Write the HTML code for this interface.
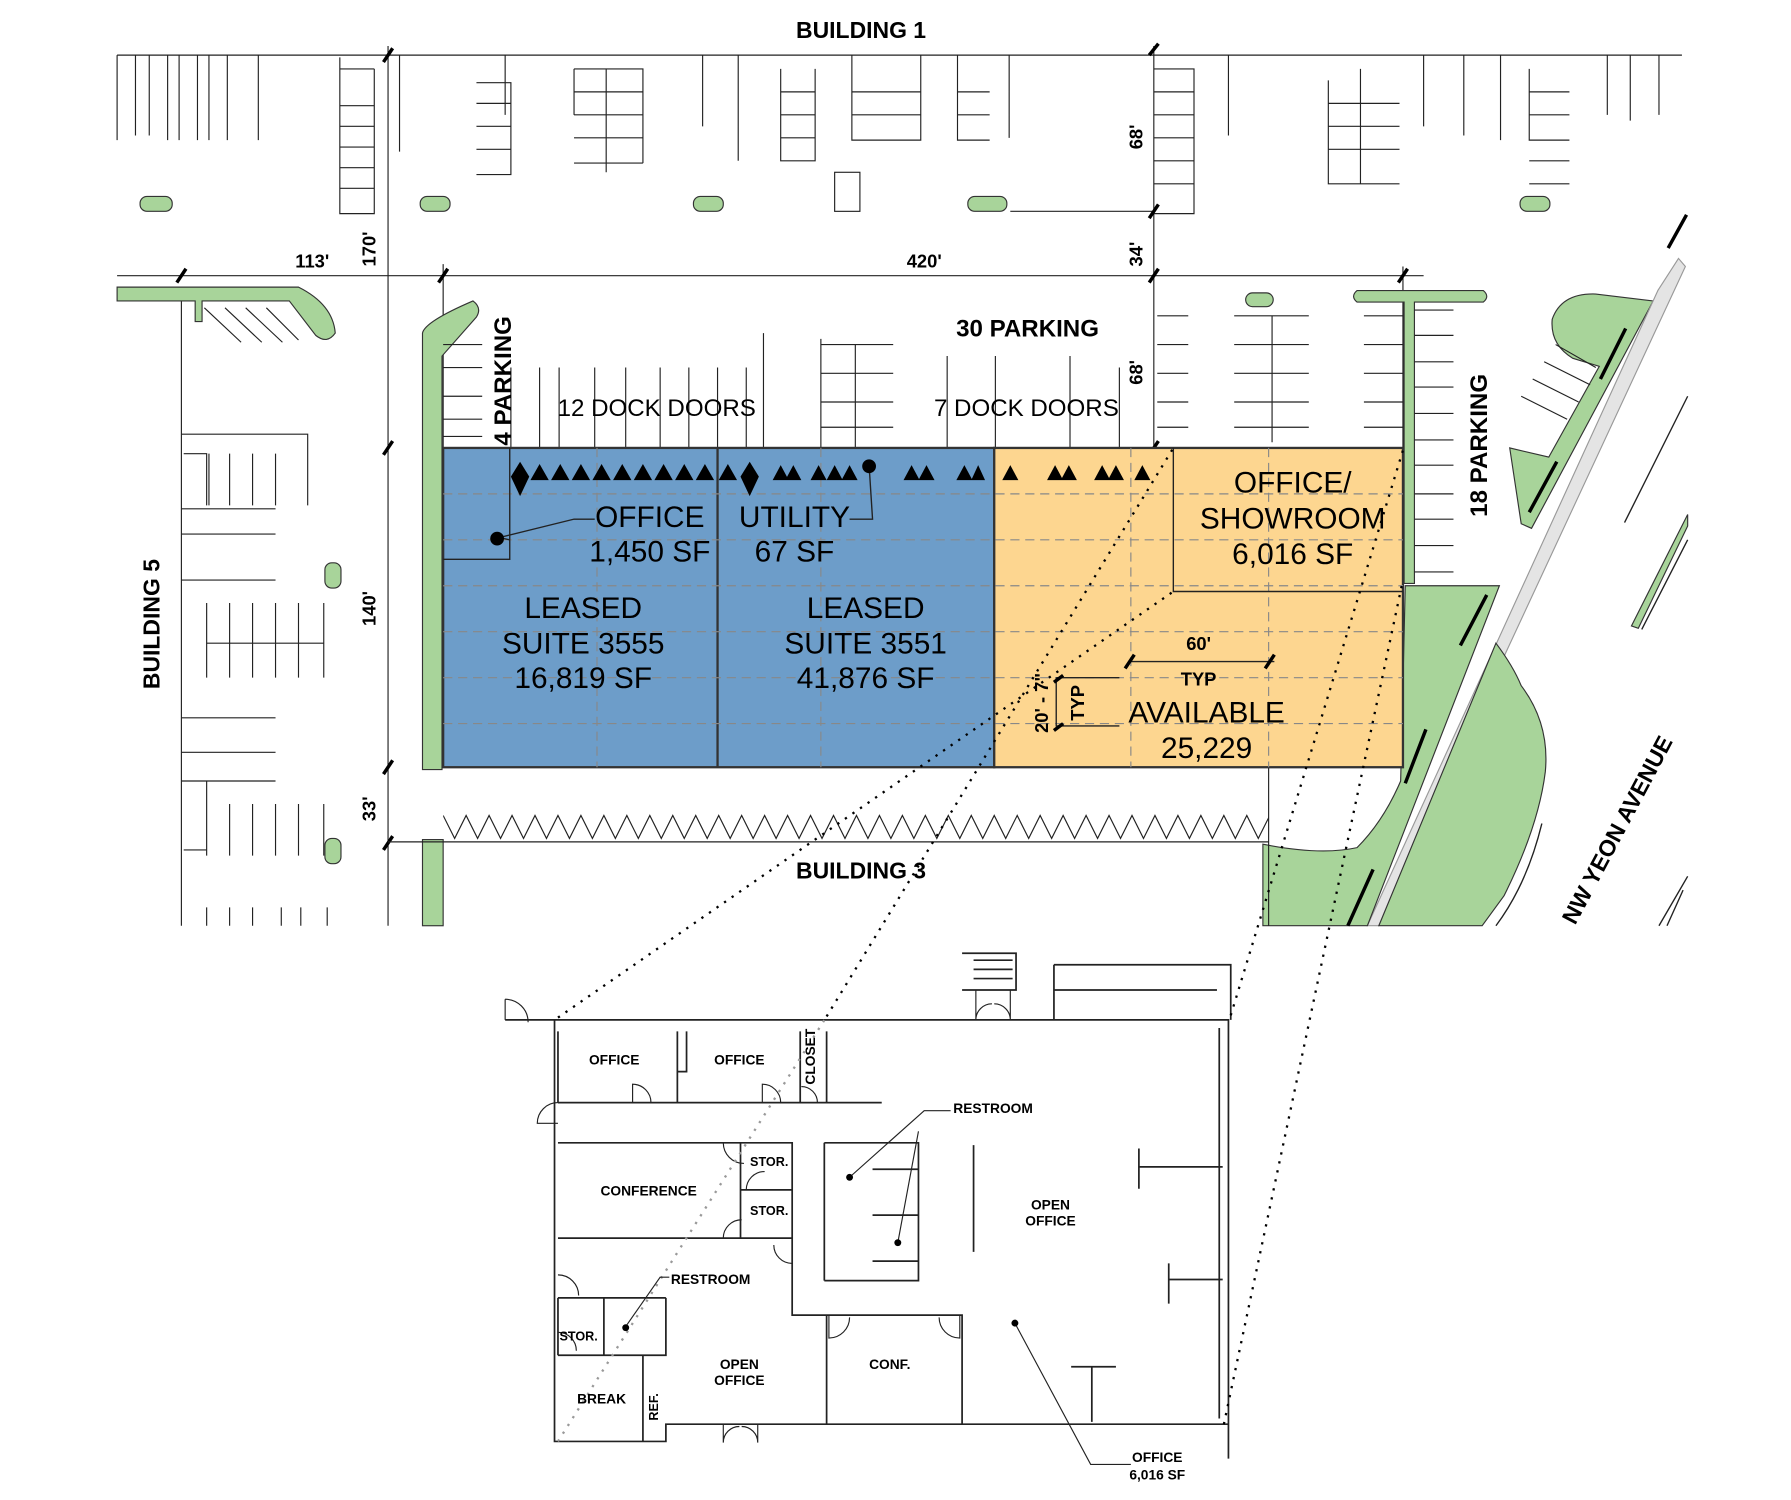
<!DOCTYPE html>
<html><head><meta charset="utf-8"><style>
html,body{margin:0;padding:0;background:#fff}
svg{display:block}
text{font-family:"Liberation Sans",sans-serif;fill:#000}
</style></head><body>
<svg width="1791" height="1500" viewBox="0 0 1560 1306" preserveAspectRatio="none" xmlns="http://www.w3.org/2000/svg">
<defs><clipPath id="zc"><rect x="386" y="700" width="719" height="40"/></clipPath></defs>
<g stroke="#222" stroke-width="1" fill="none">
<line x1="102" y1="48" x2="1465" y2="48"/>
<line x1="338" y1="40" x2="338" y2="806"/>
<line x1="1005" y1="40" x2="1005" y2="390"/>
<path d="M102 48V122M118 48V118M130 48V118M146 48V122M156 48V122M172 48V122M182 48V122M198 48V122M225 48V122"/>
<path d="M296 50V186h30V60M296 92h30M296 110h30M296 128h30M296 146h30M296 164h30M296 60h30"/>
<path d="M348 48V132M440 48V100M415 72h30V152h-30M415 90h30M415 110h30M415 130h30"/>
<path d="M500 60h60V142M500 60V100M500 80h60M500 100h60M500 120h60M500 142h60M528 60V150"/>
<path d="M612 48V110M643 48V140M680 60V140h30V60M680 80h30M680 100h30M680 120h30M742 48V122h60V48M742 80h60M742 100h60M834 48V122h28M834 80h28M834 100h28M879 48V120"/>
<rect x="727" y="150" width="22" height="34"/>
<path d="M1005 60H1040V186H1005M1005 80h35M1005 100h35M1005 120h35M1005 140h35M1005 160h35M1070 48V118M1157 70V160h62M1157 90h62M1157 110h62M1157 130h62M1185 60V160M1240 48V110M1275 48V118M1307 48V122M1332 60V122h35M1332 80h35M1332 100h35M1332 140h35M1332 160h35M1400 48V100M1420 48V105M1445 48V100"/>
<line x1="880" y1="184" x2="1005" y2="184"/>
<line x1="102" y1="240" x2="1240" y2="240"/>
<line x1="386" y1="230" x2="386" y2="390"/>
<line x1="158" y1="262" x2="158" y2="806"/>
<line x1="1222" y1="232" x2="1222" y2="390"/>
</g>
<g stroke="#000" stroke-width="3">
<line x1="334" y1="54" x2="342" y2="42"/><line x1="1001" y1="190" x2="1009" y2="178"/><line x1="1001" y1="48" x2="1009" y2="38"/>
<line x1="154" y1="246" x2="162" y2="234"/><line x1="382" y1="246" x2="390" y2="234"/><line x1="1001" y1="246" x2="1009" y2="234"/><line x1="1218" y1="246" x2="1226" y2="234"/>
<line x1="334" y1="396" x2="342" y2="384"/><line x1="334" y1="674" x2="342" y2="662"/><line x1="334" y1="740" x2="342" y2="728"/><line x1="1001" y1="396" x2="1009" y2="384"/>
</g>
<g fill="#a8d49a" stroke="#333" stroke-width="1">
<rect x="122" y="171" width="28" height="13" rx="6"/><rect x="366" y="171" width="26" height="13" rx="6"/><rect x="604" y="171" width="26" height="13" rx="6"/><rect x="843" y="171" width="34" height="13" rx="6"/><rect x="1324" y="171" width="26" height="13" rx="6"/>
<rect x="283" y="490" width="14" height="22" rx="6"/><rect x="283" y="730" width="14" height="22" rx="6"/>
<rect x="1085" y="255" width="24" height="12" rx="6"/>
<path d="M102 250H260Q290 265 292 290Q285 300 275 292L252 262H176V280H170V262H102Z"/>
<path d="M368 290Q370 280 412 262Q420 268 415 276L385 310V670H368Z"/>
<rect x="368" y="731" width="18" height="75"/>
<path d="M1182 253H1292Q1298 258 1292 263H1232V508H1223V263H1182Q1176 258 1182 253Z"/>
<path d="M1440 262L1334 460L1325 456L1315 390L1349 398L1393 319L1370 312Q1350 300 1352 278Q1360 255 1390 256Z"/>
<path d="M1444 253L1191 806L1201 806L1468 232L1462 225Z" fill="#e4e4e4" stroke="#999"/>
<path d="M1100 806V735Q1150 745 1182 738Q1205 715 1220 680L1224 510H1306L1191 806Z"/>
<path d="M1303 560Q1318 580 1325 597Q1350 630 1346 672Q1340 720 1310 780L1291 806H1201Z"/>
<path d="M1421 545L1470 448L1470 458L1427 547Z"/>
</g>
<g stroke="#222" stroke-width="1.2" fill="none">
<path d="M1343 717Q1330 770 1303 806M1470 763L1445 806M1466 775L1452 806"/>
<path d="M1415 455L1470 345M1430 548L1470 470"/>
</g>
<g stroke="#000" stroke-width="3"><path d="M1469 187L1453 216M1416 286L1394 330M1356 402L1332 446M1295 518L1272 562M1242 635L1224 682M1196 757L1174 806"/></g>
<g stroke="#222" stroke-width="1" fill="none">
<path d="M178 268L210 298M196 268L228 298M214 268L246 298M232 268L260 296"/>
<path d="M158 378H268V440M160 395H180V440M182 395V440M200 395V440M220 395V440M240 395V440M158 443H240M158 465H240"/>
<path d="M158 505H240M180 525V590M200 525V590M220 525V590M240 525V590M260 525V590M282 525V590M180 560H282M158 625H240M158 655H240"/>
<path d="M158 680H240M180 700V745M200 700V745M220 700V745M240 700V745M260 700V745M282 700V745M160 740H180M180 680V700"/>
<path d="M180 790V806M200 790V806M220 790V806M245 790V806M262 790V806M285 790V806"/>
<path d="M386 300H420M386 320H420M386 345H420M386 365H420M386 380H420"/>
<path d="M445 320V390M470 320V390M487 320V390M518 320V390M545 320V390M575 320V390M600 320V390M625 320V390M650 320V390M665 290V390"/>
<path d="M715 295V390M715 300H778M715 325H778M715 350H778M715 372H778M745 300V390M825 310V390M867 310V390M932 310V390M975 320V390"/>
<path d="M1008 275H1035M1008 300H1035M1008 325H1035M1008 350H1035M1008 372H1035M1075 275H1140M1075 300H1140M1075 325H1140M1075 350H1140M1075 372H1140M1108 275V385M1188 275H1222M1188 300H1222M1188 325H1222M1188 350H1222M1188 372H1222"/>
<path d="M1232 270H1266M1232 292H1266M1232 315H1266M1232 337H1266M1232 360H1266M1232 383H1266M1232 405H1266M1232 430H1266M1232 452H1266M1232 475H1266M1232 498H1266"/>
<path d="M1355 300L1390 320M1345 315L1385 335M1335 330L1375 350M1325 345L1365 365"/>
<line x1="338" y1="733" x2="1105" y2="733"/>
<line x1="386" y1="668" x2="1105" y2="668"/>
<line x1="1105" y1="668" x2="1105" y2="806"/>
<path clip-path="url(#zc)" d="M386 710l10 20l10-20l10 20l10-20l10 20l10-20l10 20l10-20l10 20l10-20l10 20l10-20l10 20l10-20l10 20l10-20l10 20l10-20l10 20l10-20l10 20l10-20l10 20l10-20l10 20l10-20l10 20l10-20l10 20l10-20l10 20l10-20l10 20l10-20l10 20l10-20l10 20l10-20l10 20l10-20l10 20l10-20l10 20l10-20l10 20l10-20l10 20l10-20l10 20l10-20l10 20l10-20l10 20l10-20l10 20l10-20l10 20l10-20l10 20l10-20l10 20l10-20l10 20l10-20l10 20l10-20l10 20l10-20l10 20l10-20l10 20l10-20l10 20l10-20l10 20l10-20l10 20l10-20l10 20l10-20l10 20l10-20l10 20l10-20l10 20l10-20l10 20l10-20l10 20l10-20"/>
</g>
<rect x="386" y="390" width="480" height="278" fill="#6d9dc9" stroke="#333" stroke-width="2"/>
<rect x="866" y="390" width="356" height="278" fill="#fdd690" stroke="#333" stroke-width="2"/>
<line x1="625" y1="390" x2="625" y2="668" stroke="#333" stroke-width="2"/>
<g stroke="#888" stroke-width="1" stroke-dasharray="8,5">
<path d="M386 430H1222M386 470H1222M386 510H1222M386 550H1222M386 590H1222M386 630H1222"/>
<path d="M520 390V668M715 390V668M985 390V668M1105 390V668"/>
</g>
<g stroke="#222" stroke-width="1.2" fill="none">
<path d="M386 487H444V390"/>
<path d="M1022 390V515H1222"/>
<path d="M444 470L435 468L500 452H518"/>
<path d="M757 405L760 452H740"/>
<path d="M920 590V632H975M920 590H975M985 576H1110"/>
</g>
<circle cx="433" cy="469" r="6"/><circle cx="757" cy="406" r="6"/>
<g fill="#000">
<path d="M445 415L453 402L461 415L453 432Z"/>
<path d="M645 415L653 402L661 415L653 432Z"/>
<path d="M462 418l8-14l8 14zM480 418l8-14l8 14zM498 418l8-14l8 14zM516 418l8-14l8 14zM534 418l8-14l8 14zM552 418l8-14l8 14zM570 418l8-14l8 14zM588 418l8-14l8 14zM606 418l8-14l8 14zM626 418l8-14l8 14z"/>
<path d="M673 418l7-13l7 13zM684 418l7-13l7 13zM706 418l7-13l7 13zM720 418l7-13l7 13zM733 418l7-13l7 13z"/>
<path d="M787 418l7-13l7 13zM800 418l7-13l7 13zM833 418l7-13l7 13zM846 418l6-13l6 13z"/>
<path d="M873 418l7-13l7 13zM912 418l7-13l7 13zM924 418l7-13l7 13zM953 418l7-13l7 13zM965 418l7-13l7 13zM988 418l7-13l7 13z"/>
</g>
<g stroke="#000" stroke-width="3"><line x1="980" y1="582" x2="988" y2="570"/><line x1="1102" y1="582" x2="1110" y2="570"/><line x1="918" y1="594" x2="926" y2="588"/><line x1="918" y1="636" x2="926" y2="630"/></g>
<g stroke="#222" stroke-width="1.5" fill="none">
<path d="M440 888H1070V1240H1060M483 888V1255H580V1240H1070V1270"/>
<path d="M486 960H768M486 898V960M590 898V960M697 898V960M720 898V960M590 933H598V898"/>
<path d="M486 995H690V1078H486M645 995V1078M645 1036H690M486 1078H630M690 1078V1145H720M720 1145V1240M720 1145H838V1240M838 1145V1240"/>
<path d="M718 995V1115M718 995H800V1115H718M760 1018H800M760 1058H800M760 1098H800"/>
<path d="M486 1130H580M486 1130V1180M526 1130V1180H580V1130M486 1180H560M560 1180V1255"/>
<path d="M848 997V1090M992 1000V1035M992 1016H1065M1018 1100V1135M1018 1114H1065M933 1190H972M951 1190V1238"/>
<path d="M838 830H885V862H838M848 836H882M848 844H882M848 852H882M918 840H1072V888M918 840V888M918 862H1060"/>
<path d="M1062 895V1235"/>
</g>
<g stroke="#222" stroke-width="1" fill="none">
<path d="M440 870V888M440 870A20 20 0 0 1 460 890"/>
<path d="M567 960A16 16 0 0 0 551 944V960M680 960A16 16 0 0 0 664 944V960M712 960A14 14 0 0 0 698 946"/>
<path d="M486 960A18 18 0 0 0 468 978H486M630 995A18 18 0 0 0 648 1013M650 1036A16 16 0 0 1 666 1020M630 1078A16 16 0 0 1 646 1062M690 1100A16 16 0 0 1 674 1084"/>
<path d="M486 1110A18 18 0 0 1 504 1128M486 1160A16 16 0 0 1 502 1176"/>
<path d="M722 1145V1165A18 18 0 0 0 740 1147M836 1145V1165A18 18 0 0 1 818 1147"/>
<path d="M630 1240V1256A14 14 0 0 1 644 1242M660 1240V1256A14 14 0 0 0 646 1242"/>
<path d="M850 862V888A14 14 0 0 1 864 874M880 862V888A14 14 0 0 0 866 874"/>
</g>
<g stroke="#000" stroke-width="2" stroke-dasharray="2,6" fill="none">
<line x1="486" y1="886" x2="1022" y2="515"/>
<line x1="720" y1="885" x2="1022" y2="390"/>
<line x1="1072" y1="884" x2="1222" y2="392"/>
<line x1="1066" y1="1240" x2="1222" y2="505"/>
</g>
<line x1="486" y1="1255" x2="720" y2="885" stroke="#999" stroke-width="2" stroke-dasharray="2,6"/>
<g stroke="#222" stroke-width="1" fill="none">
<path d="M884 1152L950 1275H985"/><path d="M740 1025L805 967H828M782 1082L800 985"/><path d="M545 1155L575 1112H583"/>
</g>
<circle cx="740" cy="1025" r="3"/><circle cx="782" cy="1082" r="3"/><circle cx="545" cy="1156" r="3"/><circle cx="884" cy="1152" r="3"/>
<g font-weight="bold">
<text x="750" y="33" font-size="20" text-anchor="middle">BUILDING 1</text>
<text x="750" y="765" font-size="20" text-anchor="middle">BUILDING 3</text>
<text x="895" y="293" font-size="21" text-anchor="middle">30 PARKING</text>
<text x="572" y="362" font-size="21" text-anchor="middle" font-weight="normal">12 DOCK DOORS</text>
<text x="894" y="362" font-size="21" text-anchor="middle" font-weight="normal">7 DOCK DOORS</text>
<text transform="translate(445,388) rotate(-90)" font-size="21">4 PARKING</text>
<text transform="translate(1295,450) rotate(-90)" font-size="21">18 PARKING</text>
<text transform="translate(139,600) rotate(-90)" font-size="20">BUILDING 5</text>
<text transform="translate(1372,806) rotate(-62)" font-size="20">NW YEON AVENUE</text>
<text x="272" y="233" font-size="16" text-anchor="middle">113'</text>
<text x="805" y="233" font-size="16" text-anchor="middle">420'</text>
<text transform="translate(327,232) rotate(-90)" font-size="16">170'</text>
<text transform="translate(995,232) rotate(-90)" font-size="16">34'</text>
<text transform="translate(995,130) rotate(-90)" font-size="16">68'</text>
<text transform="translate(995,335) rotate(-90)" font-size="16">68'</text>
<text transform="translate(327,545) rotate(-90)" font-size="16">140'</text>
<text transform="translate(327,715) rotate(-90)" font-size="16">33'</text>
</g>
<g font-size="26" text-anchor="middle">
<text x="566" y="459">OFFICE</text><text x="566" y="489">1,450 SF</text>
<text x="692" y="459">UTILITY</text><text x="692" y="489">67 SF</text>
<text x="508" y="538">LEASED</text><text x="508" y="569">SUITE 3555</text><text x="508" y="599">16,819 SF</text>
<text x="754" y="538">LEASED</text><text x="754" y="569">SUITE 3551</text><text x="754" y="599">41,876 SF</text>
<text x="1126" y="429">OFFICE/</text><text x="1126" y="460">SHOWROOM</text><text x="1126" y="491">6,016 SF</text>
<text x="1051" y="629">AVAILABLE</text><text x="1051" y="660">25,229</text>
</g>
<g font-size="16" font-weight="bold" text-anchor="middle">
<text x="1044" y="566">60'</text><text x="1044" y="597">TYP</text>
<text transform="translate(913,612) rotate(-90)">20' - 7"</text>
<text transform="translate(944,612) rotate(-90)">TYP</text>
</g>
<g font-size="12" font-weight="bold" text-anchor="middle">
<text x="535" y="927">OFFICE</text><text x="644" y="927">OFFICE</text>
<text transform="translate(710,920) rotate(-90)">CLOSET</text>
<text x="865" y="969">RESTROOM</text>
<text x="565" y="1041">CONFERENCE</text>
<text x="670" y="1015" font-size="11">STOR.</text><text x="670" y="1058" font-size="11">STOR.</text>
<text x="915" y="1053">OPEN</text><text x="915" y="1067">OFFICE</text>
<text x="619" y="1118">RESTROOM</text>
<text x="504" y="1167" font-size="11">STOR.</text>
<text x="644" y="1192">OPEN</text><text x="644" y="1206">OFFICE</text>
<text x="775" y="1192">CONF.</text>
<text x="524" y="1222">BREAK</text>
<text transform="translate(573,1225) rotate(-90)" font-size="11">REF.</text>
<text x="1008" y="1273">OFFICE</text><text x="1008" y="1288">6,016 SF</text>
</g>
</svg>
</body></html>
